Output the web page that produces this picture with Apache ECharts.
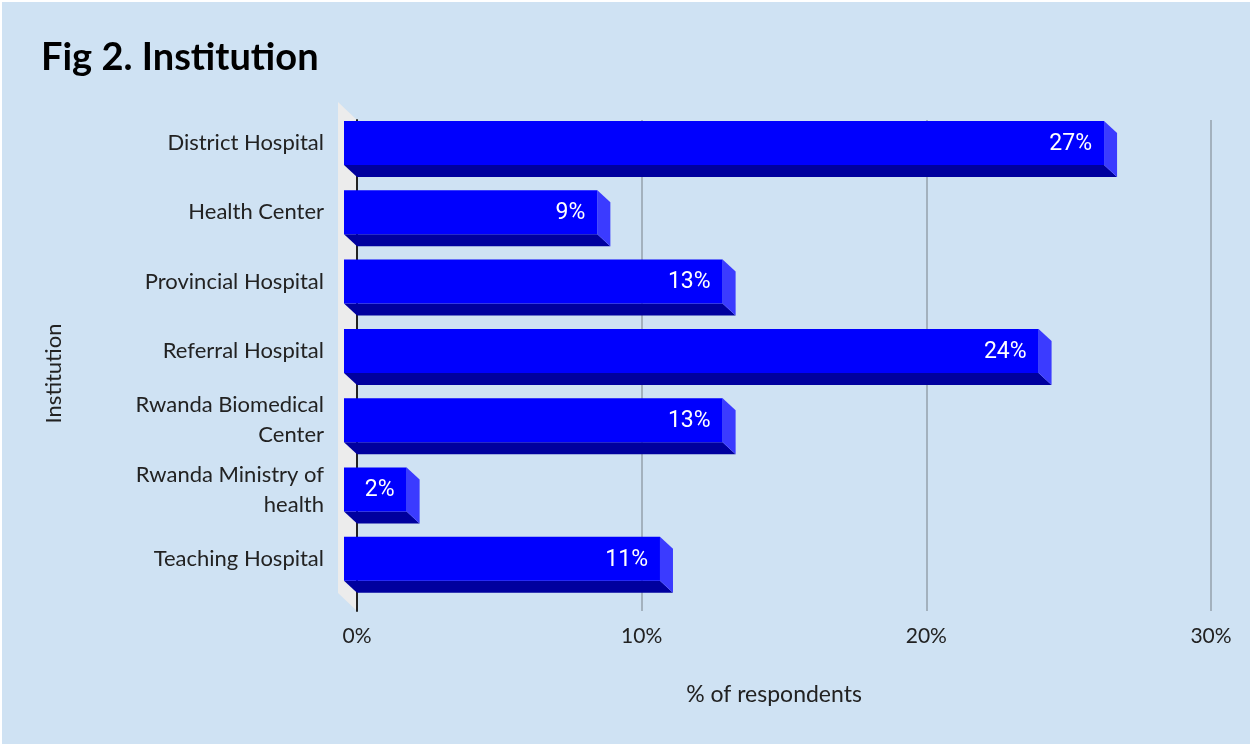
<!DOCTYPE html>
<html>
<head>
<meta charset="utf-8">
<script src="https://cdn.jsdelivr.net/npm/echarts@6/dist/echarts.min.js"></script>
<style>
  html, body { margin: 0; padding: 0; background: #ffffff; }
  #chart { width: 1248px; height: 742px; margin: 2px 0 0 2px; }
</style>
</head>
<body>
<div id="chart"></div>
<script>
// Respondents by institution (share of respondents, %)
const categories = [
  'District Hospital',
  'Health Center',
  'Provincial Hospital',
  'Referral Hospital',
  'Rwanda Biomedical\nCenter',
  'Rwanda Ministry of\nhealth',
  'Teaching Hospital'
];
const shares = [26.7, 8.9, 13.3, 24.4, 13.3, 2.2, 11.1];
const xTicks = [0, 10, 20, 30];

const LABEL_FONT = 'Lato';
const BG = '#cfe2f3';
const FACE = '#0000fe';
const BOTTOM = '#00009e';
const SIDE = '#3b3bff';
const WALL = '#ececec';

// depth offset of the bars and of the back wall
const BAR_DX = 13, BAR_DY = 12;
const WALL_DX = 19, WALL_DY = 18;

// plot area of the bars (back plane); category labels sit on the front plane
const BAR_TOP = 118.35, BAR_BOTTOM = 138.5;

const chart = echarts.init(document.getElementById('chart'), null, { renderer: 'canvas' });

function renderBar(params, api) {
  const v = api.value(0);
  const idx = api.value(1);
  const end = api.coord([v, idx]);
  const start = api.coord([0, idx]);
  const band = api.size([0, 1])[1];
  const h = band * 0.635;
  const c = end[1];
  const top = c - h / 2, bot = c + h / 2;
  const x0 = start[0], x1 = end[0];
  return {
    type: 'group',
    children: [
      { // bottom face
        type: 'polygon',
        shape: { points: [[x0 - BAR_DX, bot - BAR_DY], [x1 - BAR_DX, bot - BAR_DY], [x1, bot], [x0, bot]] },
        style: { fill: BOTTOM }
      },
      { // right side face
        type: 'polygon',
        shape: { points: [[x1 - BAR_DX, top - BAR_DY], [x1, top], [x1, bot], [x1 - BAR_DX, bot - BAR_DY]] },
        style: { fill: SIDE }
      },
      { // front face
        type: 'rect',
        shape: { x: x0 - BAR_DX, y: top - BAR_DY, width: x1 - x0, height: h },
        style: { fill: FACE }
      },
      {
        type: 'text',
        x: x1 - BAR_DX - 12,
        y: c - BAR_DY + 1,
        style: {
          text: Math.round(v) + '%',
          fill: '#ffffff',
          font: '23px Roboto',
          align: 'right',
          verticalAlign: 'middle'
        }
      }
    ]
  };
}

function renderWall(params, api) {
  const b = api.coord([0, 0]);
  const t = api.coord([0, 1]);
  return {
    type: 'polygon',
    shape: { points: [[t[0] - WALL_DX, t[1] - WALL_DY], [t[0], t[1]], [b[0], b[1]], [b[0] - WALL_DX, b[1] - WALL_DY]] },
    style: { fill: WALL }
  };
}

const option = {
  backgroundColor: BG,
  animation: false,
  title: {
    text: 'Fig 2. Institution',
    left: 34,
    top: 32,
    textStyle: { fontFamily: LABEL_FONT, fontWeight: 'bold', fontSize: 38, color: '#000000' }
  },
  grid: [
    { left: 355, right: 39, top: BAR_TOP, bottom: BAR_BOTTOM },
    { left: 355, right: 39, top: 118, bottom: 133 },
    { left: 342, right: 52, top: BAR_TOP - BAR_DY, bottom: BAR_BOTTOM + BAR_DY }
  ],
  xAxis: [
    {
      gridIndex: 0, type: 'value', min: 0, max: 30, interval: 10,
      show: false
    },
    {
      gridIndex: 1, type: 'value', min: 0, max: 30, interval: 10,
      axisLine: { show: false },
      axisTick: { show: false },
      splitLine: { show: true, lineStyle: { color: '#a3b1bd', width: 2 } },
      axisLabel: {
        formatter: '{value}%', fontFamily: LABEL_FONT, fontSize: 21, color: '#222222', margin: 15,
        customValues: xTicks
      },
      name: '% of respondents',
      nameLocation: 'middle',
      nameGap: 72,
      nameTextStyle: { fontFamily: LABEL_FONT, fontSize: 23, color: '#222222', padding: [0, 20, 0, 0] }
    },
    {
      gridIndex: 2, type: 'value', min: 0, max: 30, interval: 10,
      show: false
    }
  ],
  yAxis: [
    {
      gridIndex: 0, type: 'category', data: categories, inverse: true,
      show: false
    },
    {
      gridIndex: 1, type: 'value', min: 0, max: 1,
      axisLine: { show: true, lineStyle: { color: '#222222', width: 2 } },
      axisTick: { show: false },
      axisLabel: { show: false },
      splitLine: { show: false },
      name: 'Institution',
      nameLocation: 'middle',
      nameRotate: 90,
      nameGap: 292,
      nameTextStyle: { fontFamily: LABEL_FONT, fontSize: 22, color: '#222222', padding: [0, 16, 0, 0] }
    },
    {
      gridIndex: 2, type: 'category', data: categories, inverse: true,
      axisLine: { show: false },
      axisTick: { show: false },
      splitLine: { show: false },
      axisLabel: {
        fontFamily: LABEL_FONT, fontSize: 22, color: '#222222', margin: 20,
        lineHeight: 30, align: 'right'
      }
    }
  ],
  series: [
    {
      type: 'custom',
      name: 'wall',
      xAxisIndex: 1, yAxisIndex: 1,
      z: -1,
      silent: true,
      renderItem: renderWall,
      data: [[0, 0]]
    },
    {
      type: 'custom',
      name: 'Institution',
      xAxisIndex: 0, yAxisIndex: 0,
      renderItem: renderBar,
      encode: { x: 0, y: 1 },
      data: shares.map((v, i) => [v, i])
    }
  ]
};

chart.setOption(option);
</script>
</body>
</html>
